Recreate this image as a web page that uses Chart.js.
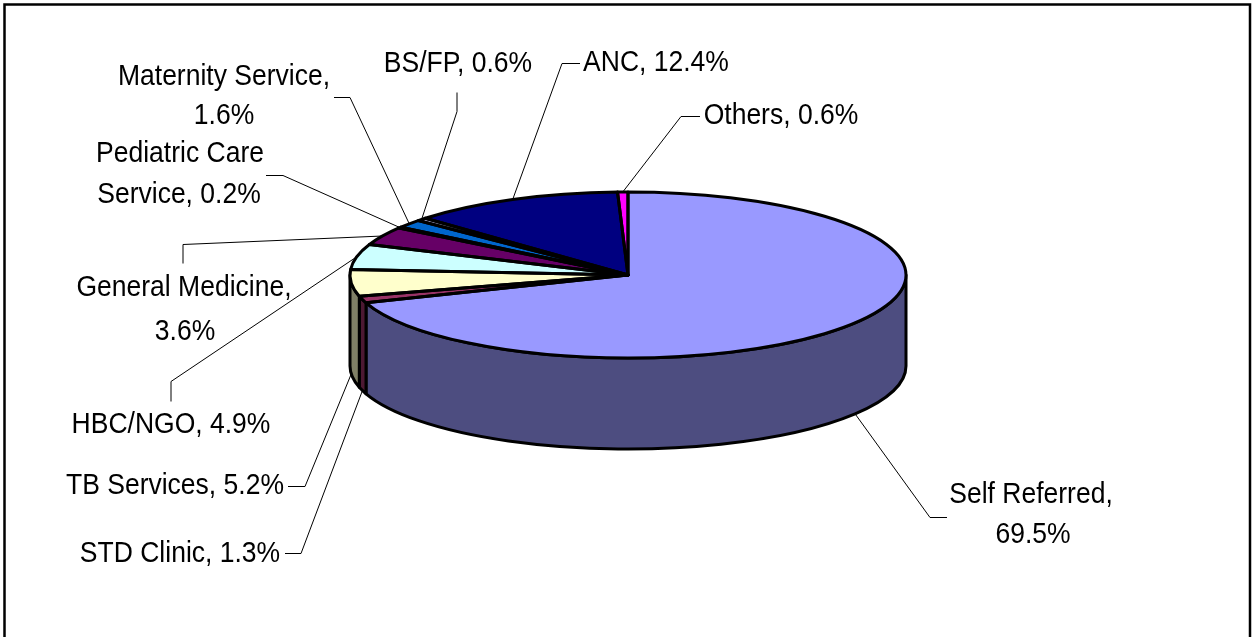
<!DOCTYPE html>
<html>
<head>
<meta charset="utf-8">
<title>Referral source</title>
<script src="https://cdn.jsdelivr.net/npm/chart.js@4"></script>
<style>
    html, body { margin: 0; padding: 0; background: #fff; overflow: hidden; }
    #box { position: relative; width: 1252px; height: 637px; }
</style>
</head>
<body>
<div id="box"><canvas id="myChart"></canvas></div>
<script>
const categories = ['Self Referred', 'STD Clinic', 'TB Services', 'HBC/NGO', 'General Medicine',
    'Pediatric Care Service', 'Maternity Service', 'BS/FP', 'ANC', 'Others'];
const values = [69.5, 1.3, 5.2, 4.9, 3.6, 0.2, 1.6, 0.6, 12.4, 0.6];
const colors = ['#9999FF', '#993366', '#FFFFCC', '#CCFFFF', '#660066',
    '#FF8080', '#0066CC', '#CCCCFF', '#000080', '#FF00FF'];
const sideColors = ['#4D4D80', '#4D1933', '#808066', '#668080', '#330033',
    '#804040', '#003366', '#666680', '#000040', '#800080'];

// label text goes on two lines after this many words, 0 keeps it on one line
const wrapAfter = [2, 0, 0, 0, 2, 2, 2, 0, 0, 0];
// centre of each text line
const labelLines = [
    [[1031, 495], [1033, 535]],
    [[180, 554]],
    [[175, 486]],
    [[171, 425]],
    [[184, 288], [185, 332]],
    [[180, 154], [179, 195]],
    [[224, 77], [224, 116]],
    [[458, 64]],
    [[656, 63]],
    [[781, 116]]
];
// leader line points, from the text towards the pie
const leaders = [
    [[947, 517], [930, 517]],
    [[285, 553], [301, 553]],
    [[288, 486], [305, 486]],
    [[171, 401], [171, 381]],
    [[183, 263], [183, 244]],
    [[266, 175], [283, 175]],
    [[334, 97], [350, 97]],
    [[457, 92], [457, 111]],
    [[580, 63], [562, 63]],
    [[700, 116], [681, 116]]
];

const squash = 83 / 278; // flattens the pie into an ellipse
const depth = 91;
const textNarrow = 0.914; // labels are set in a narrow cut

const labelText = (i) => {
    const words = `${categories[i]}, ${values[i].toFixed(1)}%`.split(' ');
    if (!wrapAfter[i]) return [words.join(' ')];
    return [words.slice(0, wrapAfter[i]).join(' '), words.slice(wrapAfter[i]).join(' ')];
};

const pie3d = {
    id: 'pie3d',
    beforeDraw(chart) {
        // frame, the bottom edge runs off the page
        const ctx = chart.ctx;
        ctx.save();
        ctx.strokeStyle = '#000';
        ctx.lineWidth = 2.5;
        ctx.beginPath();
        ctx.moveTo(4.5, 637);
        ctx.lineTo(4.5, 4.5);
        ctx.lineTo(1250, 4.5);
        ctx.lineTo(1250, 637);
        ctx.stroke();
        ctx.restore();
    },
    beforeDatasetsDraw(chart) {
        const ctx = chart.ctx;
        const arcs = chart.getDatasetMeta(0).data;
        const { x, y, outerRadius: r } = arcs[0];

        // side wall, only the front half of the rim shows
        ctx.save();
        ctx.lineWidth = 3;
        ctx.lineJoin = 'round';
        ctx.strokeStyle = '#000';
        arcs.forEach((arc, i) => {
            const from = Math.max(arc.startAngle, 0);
            const to = Math.min(arc.endAngle, Math.PI);
            if (to <= from) return;
            ctx.beginPath();
            ctx.ellipse(x, y, r, r * squash, 0, from, to);
            ctx.ellipse(x, y + depth, r, r * squash, 0, to, from, true);
            ctx.closePath();
            ctx.fillStyle = sideColors[i];
            ctx.fill();
            ctx.stroke();
        });
        ctx.restore();

        // the library's arcs get drawn flattened
        ctx.save();
        ctx.translate(x, y);
        ctx.scale(1, squash);
        ctx.translate(-x, -y);
    },
    afterDatasetsDraw(chart) {
        const ctx = chart.ctx;
        ctx.restore();

        const arcs = chart.getDatasetMeta(0).data;
        const { x, y, outerRadius: r } = arcs[0];

        ctx.save();
        ctx.lineWidth = 3;
        ctx.lineJoin = 'round';
        ctx.strokeStyle = '#000';
        arcs.forEach((arc) => {
            ctx.beginPath();
            ctx.moveTo(x, y);
            ctx.ellipse(x, y, r, r * squash, 0, arc.startAngle, arc.endAngle);
            ctx.closePath();
            ctx.stroke();
        });
        ctx.restore();

        // leader lines end on the rim at the middle of each slice
        ctx.save();
        ctx.lineWidth = 1;
        ctx.strokeStyle = '#000';
        arcs.forEach((arc, i) => {
            const mid = (arc.startAngle + arc.endAngle) / 2;
            const endX = x + r * Math.cos(mid);
            let endY = y + r * squash * Math.sin(mid);
            if (Math.sin(mid) > 0) endY += depth;
            ctx.beginPath();
            ctx.moveTo(leaders[i][0][0], leaders[i][0][1] + 0.5);
            ctx.lineTo(leaders[i][1][0], leaders[i][1][1] + 0.5);
            ctx.lineTo(endX, endY);
            ctx.stroke();
        });
        ctx.restore();

        ctx.fillStyle = '#000';
        ctx.font = '29px "Liberation Sans", Arial, sans-serif';
        ctx.textAlign = 'center';
        ctx.textBaseline = 'middle';
        categories.forEach((name, i) => {
            labelText(i).forEach((line, n) => {
                ctx.save();
                ctx.translate(labelLines[i][n][0], labelLines[i][n][1]);
                ctx.scale(textNarrow, 1);
                ctx.fillText(line, 0, 0);
                ctx.restore();
            });
        });
    }
};

const ctx = document.getElementById('myChart').getContext('2d');
new Chart(ctx, {
    type: 'pie',
    data: {
        labels: categories,
        datasets: [{
            data: values,
            backgroundColor: colors,
            borderWidth: 0,
            radius: 278,
            clip: false
        }]
    },
    options: {
        responsive: true,
        maintainAspectRatio: false,
        animation: false,
        layout: { padding: { left: 4, bottom: 87 } },
        plugins: {
            legend: { display: false },
            tooltip: { enabled: false }
        }
    },
    plugins: [pie3d]
});
</script>
</body>
</html>
